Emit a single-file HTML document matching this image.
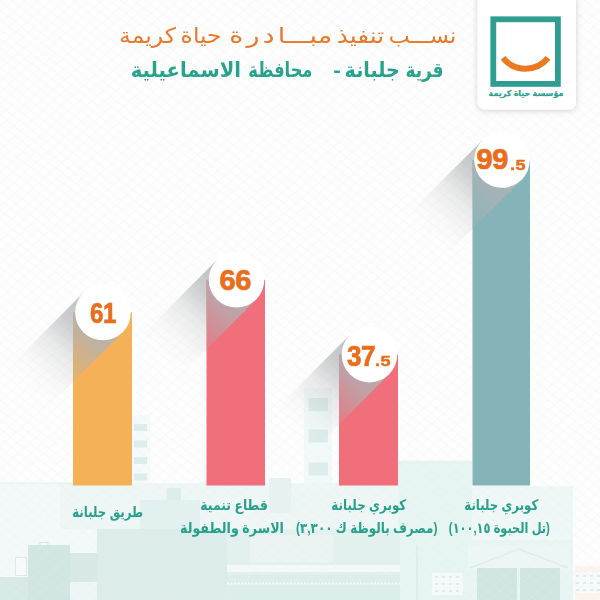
<!DOCTYPE html>
<html lang="ar">
<head>
<meta charset="utf-8">
<title>نسب تنفيذ مبادرة حياة كريمة</title>
<style>
html,body{margin:0;padding:0;}
body{width:600px;height:600px;overflow:hidden;background:#fdfdfd;position:relative;font-family:"Liberation Sans","DejaVu Sans",sans-serif;}
#stage{position:absolute;left:0;top:0;width:600px;height:600px;overflow:hidden;}
svg{position:absolute;left:0;top:0;display:block;}
.t{position:absolute;white-space:nowrap;direction:rtl;line-height:1;}
.title{color:#e7792d;font-size:21.5px;font-weight:400;top:25.5px;transform-origin:100% 50%;}
.title .sp{display:inline-block;margin-right:2.5px;}
.sub{color:#27a28b;font-size:20.6px;font-weight:700;top:60px;transform-origin:100% 50%;}
.lab{color:#27a08b;font-size:14.5px;font-weight:700;text-align:center;transform-origin:100% 50%;}
.num{position:absolute;direction:ltr;white-space:nowrap;line-height:1;color:#ea6d1c;font-weight:700;font-size:29px;letter-spacing:-0.5px;-webkit-text-stroke:0.7px #ea6d1c;font-family:"Liberation Sans",sans-serif;transform-origin:0 50%;}
.sm{position:absolute;direction:ltr;white-space:nowrap;line-height:1;color:#ea6d1c;font-weight:700;font-size:15px;letter-spacing:0.5px;-webkit-text-stroke:0.5px #ea6d1c;font-family:"Liberation Sans",sans-serif;transform-origin:0 50%;}
.logo-t{color:#2f9e90;font-size:8px;font-weight:700;left:526px;top:89.8px;-webkit-text-stroke:0.25px #2f9e90;transform:translateX(-50%);}
</style>
</head>
<body>
<div id="stage">
<svg width="600" height="600" viewBox="0 0 600 600">
<defs>
<pattern id="hatch" width="7.5" height="7.5" patternUnits="userSpaceOnUse" patternTransform="rotate(38)">
<line x1="0" y1="0.5" x2="7.5" y2="0.5" stroke="#e6e9e9" stroke-width="1"/>
</pattern>
<pattern id="hatch2" width="8.5" height="8.5" patternUnits="userSpaceOnUse" patternTransform="rotate(-42)">
<line x1="0" y1="0.5" x2="8.5" y2="0.5" stroke="#eaeded" stroke-width="1"/>
</pattern>
<filter id="cardsh" x="-20%" y="-20%" width="140%" height="140%">
<feGaussianBlur in="SourceAlpha" stdDeviation="3"/>
<feOffset dx="0" dy="1" result="o"/>
<feComponentTransfer><feFuncA type="linear" slope="0.18"/></feComponentTransfer>
<feMerge><feMergeNode/><feMergeNode in="SourceGraphic"/></feMerge>
</filter>
<linearGradient id="sg0" gradientUnits="userSpaceOnUse" x1="103.0" y1="312.5" x2="28.8" y2="386.7"><stop offset="0" stop-color="#5e6366" stop-opacity="0.40"/><stop offset="0.27" stop-color="#5e6366" stop-opacity="0.32"/><stop offset="0.55" stop-color="#5e6366" stop-opacity="0.12"/><stop offset="0.8" stop-color="#5e6366" stop-opacity="0.03"/><stop offset="1" stop-color="#5e6366" stop-opacity="0"/></linearGradient>
<linearGradient id="sb0" gradientUnits="userSpaceOnUse" x1="103.0" y1="312.5" x2="43.6" y2="371.9"><stop offset="0" stop-color="#aeb2b5" stop-opacity="0.9"/><stop offset="0.35" stop-color="#aeb2b5" stop-opacity="0.75"/><stop offset="1" stop-color="#aeb2b5" stop-opacity="0"/></linearGradient>
<clipPath id="cb0"><rect x="73.0" y="312.5" width="59.0" height="173.0"/></clipPath>
<linearGradient id="sg1" gradientUnits="userSpaceOnUse" x1="236.5" y1="279.8" x2="162.3" y2="354.0"><stop offset="0" stop-color="#5e6366" stop-opacity="0.40"/><stop offset="0.27" stop-color="#5e6366" stop-opacity="0.32"/><stop offset="0.55" stop-color="#5e6366" stop-opacity="0.12"/><stop offset="0.8" stop-color="#5e6366" stop-opacity="0.03"/><stop offset="1" stop-color="#5e6366" stop-opacity="0"/></linearGradient>
<linearGradient id="sb1" gradientUnits="userSpaceOnUse" x1="236.5" y1="279.8" x2="177.1" y2="339.2"><stop offset="0" stop-color="#aeb2b5" stop-opacity="0.9"/><stop offset="0.35" stop-color="#aeb2b5" stop-opacity="0.75"/><stop offset="1" stop-color="#aeb2b5" stop-opacity="0"/></linearGradient>
<clipPath id="cb1"><rect x="206.5" y="279.8" width="58.5" height="205.7"/></clipPath>
<linearGradient id="sg2" gradientUnits="userSpaceOnUse" x1="369.5" y1="354.6" x2="295.3" y2="428.8"><stop offset="0" stop-color="#5e6366" stop-opacity="0.40"/><stop offset="0.27" stop-color="#5e6366" stop-opacity="0.32"/><stop offset="0.55" stop-color="#5e6366" stop-opacity="0.12"/><stop offset="0.8" stop-color="#5e6366" stop-opacity="0.03"/><stop offset="1" stop-color="#5e6366" stop-opacity="0"/></linearGradient>
<linearGradient id="sb2" gradientUnits="userSpaceOnUse" x1="369.5" y1="354.6" x2="310.1" y2="414.0"><stop offset="0" stop-color="#aeb2b5" stop-opacity="0.9"/><stop offset="0.35" stop-color="#aeb2b5" stop-opacity="0.75"/><stop offset="1" stop-color="#aeb2b5" stop-opacity="0"/></linearGradient>
<clipPath id="cb2"><rect x="339.0" y="354.6" width="59.0" height="130.89999999999998"/></clipPath>
<linearGradient id="sg3" gradientUnits="userSpaceOnUse" x1="502.0" y1="160.0" x2="427.8" y2="234.2"><stop offset="0" stop-color="#5e6366" stop-opacity="0.40"/><stop offset="0.27" stop-color="#5e6366" stop-opacity="0.32"/><stop offset="0.55" stop-color="#5e6366" stop-opacity="0.12"/><stop offset="0.8" stop-color="#5e6366" stop-opacity="0.03"/><stop offset="1" stop-color="#5e6366" stop-opacity="0"/></linearGradient>
<linearGradient id="sb3" gradientUnits="userSpaceOnUse" x1="502.0" y1="160.0" x2="442.6" y2="219.4"><stop offset="0" stop-color="#aeb2b5" stop-opacity="0.9"/><stop offset="0.35" stop-color="#aeb2b5" stop-opacity="0.75"/><stop offset="1" stop-color="#aeb2b5" stop-opacity="0"/></linearGradient>
<clipPath id="cb3"><rect x="472.5" y="160.0" width="57.5" height="325.5"/></clipPath>
</defs>
<rect width="600" height="600" fill="#fdfdfd"/>
<!-- pale mint city backdrop -->
<g>
<rect x="0" y="483" width="400" height="117" fill="#f3f9f9"/>
<rect x="60" y="483" width="340" height="46" fill="#eef6f6"/>
<rect x="398" y="460.5" width="74" height="139.5" fill="#e6f4f2"/>
<rect x="472" y="486" width="101" height="54" fill="#eff8f7"/>
<rect x="472" y="540" width="101" height="60" fill="#e7f5f3"/>
<!-- crane line -->
<rect x="0" y="482.5" width="72" height="1" fill="#e4efee"/>

<rect x="304" y="388" width="28" height="95" fill="#f3f9f9"/>
<rect x="131" y="415" width="19" height="68" fill="#f5fafa"/>
<!-- window stripes and blocks -->
<g fill="#dcedec">
<rect x="134" y="424" width="13" height="7"/>
<rect x="134" y="440.5" width="13" height="7"/>
<rect x="134" y="457" width="13" height="7"/>
<rect x="134" y="473.5" width="13" height="7"/>
<rect x="308.5" y="398" width="19.5" height="13"/>
<rect x="308.5" y="429.5" width="19.5" height="13"/>
<rect x="308.5" y="462.5" width="19.5" height="13"/>
<rect x="166.5" y="488" width="14.5" height="12"/>
<rect x="140" y="500" width="60" height="29" opacity="0.6"/>
</g>
<rect x="269" y="478" width="22" height="35" fill="#e6f2f1"/>
<rect x="291" y="490" width="48" height="45" fill="#ecf6f5"/>
<!-- buildings -->
<rect x="97" y="529" width="130" height="71" fill="#dcecea"/>
<rect x="227" y="529" width="173" height="71" fill="#e2f0ee"/>
<rect x="250" y="535" width="83" height="27" fill="#eaf4f3"/>
<rect x="227" y="565" width="173" height="7" fill="#f3f9f9"/>
<rect x="227" y="575" width="173" height="25" fill="#dceeeb"/>
<line x1="227" y1="583.5" x2="400" y2="583.5" stroke="#f5fbfb" stroke-width="2" stroke-dasharray="2 1.5"/>
<rect x="28" y="545" width="42" height="55" fill="#d1e5e3"/>
<rect x="40" y="542.5" width="8" height="3" fill="none" stroke="#d1e5e3" stroke-width="1"/>
<rect x="70" y="553" width="27" height="29" fill="#d7e8e6"/>
<rect x="70" y="582" width="27" height="18" fill="#edf6f5"/>
<rect x="0" y="577" width="28" height="23" fill="#d7e9e7"/>
<rect x="15.5" y="557.5" width="11" height="18" fill="#f8fbfb" stroke="#d9e9e8" stroke-width="1"/>
<!-- right house -->
<rect x="468" y="545" width="102" height="25" fill="#ecf7f5"/>
<polyline points="470,568 519,549 568,568" fill="none" stroke="#dceeeb" stroke-width="1.5"/>
<rect x="477" y="568" width="40" height="32" fill="#cfe5e2"/>
<rect x="520" y="568" width="40" height="32" fill="#cfe5e2"/>
<rect x="416.5" y="545" width="1.2" height="55" fill="#d3e8e5"/>
<rect x="432" y="573" width="31" height="22" fill="#f4fafa"/>
<g fill="#dcebea">
<rect x="435" y="576" width="3" height="2"/><rect x="442" y="576" width="3" height="2"/><rect x="449" y="576" width="3" height="2"/><rect x="456" y="576" width="3" height="2"/>
<rect x="435" y="583" width="3" height="2"/><rect x="442" y="583" width="3" height="2"/><rect x="449" y="583" width="3" height="2"/><rect x="456" y="583" width="3" height="2"/>
<rect x="435" y="590" width="3" height="2"/><rect x="442" y="590" width="3" height="2"/><rect x="449" y="590" width="3" height="2"/><rect x="456" y="590" width="3" height="2"/>
</g>
<rect x="575" y="566" width="25" height="34" fill="#fbf4ec"/>
<rect x="573" y="572" width="27" height="21" fill="#f6fafa"/>
<g fill="#dcebea">
<rect x="576" y="575" width="3" height="2"/><rect x="583" y="575" width="3" height="2"/><rect x="590" y="575" width="3" height="2"/><rect x="597" y="575" width="3" height="2"/>
<rect x="576" y="582" width="3" height="2"/><rect x="583" y="582" width="3" height="2"/><rect x="590" y="582" width="3" height="2"/><rect x="597" y="582" width="3" height="2"/>
<rect x="576" y="589" width="3" height="2"/><rect x="583" y="589" width="3" height="2"/><rect x="590" y="589" width="3" height="2"/><rect x="597" y="589" width="3" height="2"/>
</g>
</g>

<rect width="600" height="600" fill="url(#hatch)" opacity="0.22"/>
<rect width="600" height="600" fill="url(#hatch2)" opacity="0.22"/>
<polygon points="83.3,292.8 122.7,332.2 48.4,406.4 9.1,367.1" fill="url(#sg0)"/>
<polygon points="216.8,260.1 256.2,299.5 181.9,373.7 142.6,334.4" fill="url(#sg1)"/>
<polygon points="349.8,334.9 389.2,374.3 314.9,448.5 275.6,409.2" fill="url(#sg2)"/>
<polygon points="482.3,140.3 521.7,179.7 447.4,253.9 408.1,214.6" fill="url(#sg3)"/>
<rect x="73.0" y="312.5" width="59.0" height="173.0" fill="#f5b157"/>
<polygon points="83.3,292.8 122.7,332.2 48.4,406.4 9.1,367.1" fill="url(#sb0)" clip-path="url(#cb0)"/>
<rect x="206.5" y="279.8" width="58.5" height="205.7" fill="#f06f7a"/>
<polygon points="216.8,260.1 256.2,299.5 181.9,373.7 142.6,334.4" fill="url(#sb1)" clip-path="url(#cb1)"/>
<rect x="339.0" y="354.6" width="59.0" height="130.9" fill="#f06f7a"/>
<polygon points="349.8,334.9 389.2,374.3 314.9,448.5 275.6,409.2" fill="url(#sb2)" clip-path="url(#cb2)"/>
<rect x="472.5" y="160.0" width="57.5" height="325.5" fill="#84b4b8"/>
<polygon points="482.3,140.3 521.7,179.7 447.4,253.9 408.1,214.6" fill="url(#sb3)" clip-path="url(#cb3)"/>
<circle cx="103.0" cy="312.5" r="27.8" fill="#ffffff"/>
<circle cx="236.5" cy="279.8" r="27.8" fill="#ffffff"/>
<circle cx="369.5" cy="354.6" r="27.8" fill="#ffffff"/>
<circle cx="502.0" cy="160.0" r="27.8" fill="#ffffff"/>
<!-- logo card -->
<rect x="477.5" y="-10" width="98.5" height="119.5" rx="7" ry="7" fill="#ffffff" filter="url(#cardsh)"/>
<rect x="493.3" y="19.3" width="64.6" height="64.6" fill="none" stroke="#2f9e90" stroke-width="5.8"/>
<path d="M503 57.9 A28.8 28.8 0 0 0 548 57.9" fill="none" stroke="#ea7a22" stroke-width="6"/>
</svg>
<div class="t title w" style="right:143.5px;transform:scaleX(1.0357);">نســـب</div>
<div class="t title w" style="right:215.5px;transform:scaleX(1.1550);">تنفيذ</div>
<div class="t title w" style="right:268.0px;transform:scaleX(1.2532);">مبـــا<span class="sp">د</span><span class="sp">ر</span><span class="sp">ة</span></div>
<div class="t title w" style="right:378.0px;transform:scaleX(1.0906);">حياة</div>
<div class="t title w" style="right:424.0px;transform:scaleX(1.0952);">كريمة</div>
<div class="t sub w" style="right:156.0px;transform:scaleX(0.8167);">قرية</div>
<div class="t sub w" style="right:200.0px;transform:scaleX(0.9227);">جلبانة</div>
<div class="t sub w" style="right:259.5px;transform:scaleX(1.0934);">-</div>
<div class="t sub w" style="right:288.0px;transform:scaleX(0.7865);">محافظة</div>
<div class="t sub w" style="right:359.0px;transform:scaleX(0.9511);">الاسماعيلية</div>
<div class="t logo-t">مؤسسة حياة كريمة</div>

<div class="num" style="left:90px;top:299.3px;transform:scaleX(0.83);">61</div>
<div class="num" style="left:219.5px;top:265.5px;">66</div>
<div class="num" style="left:346.5px;top:342px;transform:scaleX(0.9);">37</div>
<div class="sm" style="left:374.5px;top:353px;transform:scaleX(1.2);">.5</div>
<div class="num" style="left:476.5px;top:145px;">99</div>
<div class="sm" style="left:510px;top:156.5px;transform:scaleX(1.2);">.5</div>

<div class="t lab w" style="right:457.0px;top:505px;transform:scaleX(0.8142);">طريق جلبانة</div>
<div class="t lab w" style="right:332.5px;top:498px;transform:scaleX(0.8566);">قطاع تنمية</div>
<div class="t lab w" style="right:316.0px;top:521px;transform:scaleX(0.8743);">الاسرة والطفولة</div>
<div class="t lab w" style="right:194.0px;top:498px;transform:scaleX(0.8216);">كوبري جلبانة</div>
<div class="t lab w" style="right:163.0px;top:521px;transform:scaleX(0.8251);">(مصرف بالوظة ك ٣,٣٠٠)</div>
<div class="t lab w" style="right:62.0px;top:498px;transform:scaleX(0.8107);">كوبري جلبانة</div>
<div class="t lab w" style="right:50.0px;top:521px;transform:scaleX(0.7839);">(تل الحبوة ١٠٠,١٥)</div>
</div>
</body>
</html>
